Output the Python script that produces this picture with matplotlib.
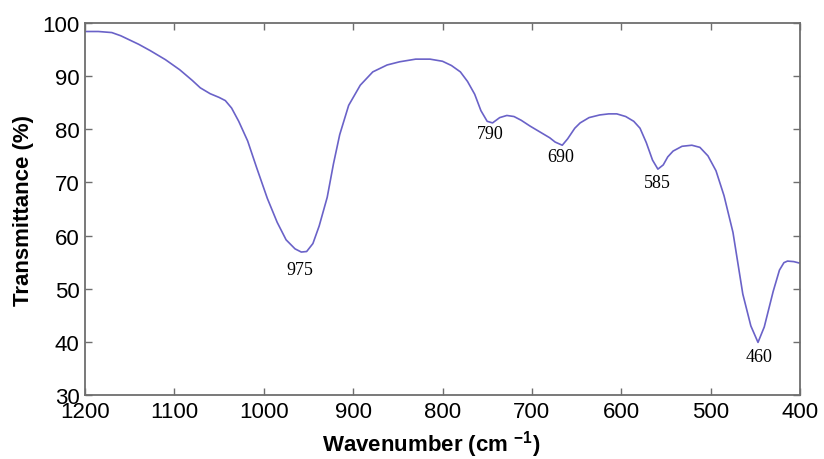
import matplotlib.pyplot as plt

plt.rcParams['font.family'] = ['Liberation Sans', 'DejaVu Sans']
plt.rcParams['mathtext.fontset'] = 'custom'
plt.rcParams['mathtext.rm'] = 'Liberation Sans:bold'
plt.rcParams['mathtext.default'] = 'rm'

# spectrum (wavenumber, transmittance %)
wavenumber = [1200, 1185, 1170, 1160, 1150, 1140, 1127, 1110, 1094, 1080, 1071,
              1060, 1050, 1043, 1036, 1028, 1018, 1008, 996, 985, 975, 965,
              958, 952, 945, 938, 929, 922, 915, 905, 892, 878, 862, 848,
              830, 814, 800, 790, 780, 772, 764, 757, 750, 744, 736, 728,
              720, 712, 702, 690, 680, 674, 666, 660, 652, 646, 636, 624,
              614, 605, 595, 586, 579, 572, 565, 559, 553, 548, 542, 532,
              521, 512, 503, 494, 485, 475, 464, 455, 447, 440, 430, 423,
              418, 414, 407, 400]
transmittance = [98.4, 98.4, 98.2, 97.6, 96.8, 96.0, 94.8, 93.1, 91.2, 89.2, 87.8,
                 86.7, 86.0, 85.4, 84.0, 81.5, 77.8, 72.8, 67.0, 62.5, 59.2, 57.5,
                 56.9, 57.0, 58.5, 61.8, 67.2, 73.5, 79.0, 84.5, 88.3, 90.8, 92.1, 92.7,
                 93.2, 93.2, 92.8, 92.0, 90.8, 89.0, 86.6, 83.5, 81.5, 81.2, 82.2, 82.6,
                 82.4, 81.7, 80.6, 79.4, 78.4, 77.6, 77.0, 78.2, 80.2, 81.2, 82.2, 82.7,
                 82.9, 82.9, 82.4, 81.5, 80.2, 77.5, 74.2, 72.5, 73.3, 74.8, 75.9, 76.8,
                 77.0, 76.6, 75.0, 72.2, 67.5, 60.6, 49.0, 43.0, 39.9, 42.8, 49.5, 53.5,
                 54.9, 55.2, 55.1, 54.8]

peak_labels = ['975', '790', '690', '585', '460']
peak_x = [960, 747, 668, 560, 446]
peak_y = [53.6, 79.3, 74.8, 70.0, 37.3]

fig = plt.figure(figsize=(8.24, 4.6), dpi=100)
ax = fig.add_axes([85 / 824, 64 / 460, 715 / 824, 372 / 460])

ax.plot(wavenumber, transmittance, color='#6a62c8', linewidth=1.2)

for lab, x, y in zip(peak_labels, peak_x, peak_y):
    ax.text(x, y, lab, ha='center', va='center', fontsize=13,
            family=['Liberation Serif', 'DejaVu Serif'])

ax.set_xlim(1200, 400)
ax.set_ylim(30, 100)
ax.set_xticks(range(1200, 399, -100))
ax.set_yticks(range(30, 101, 10))

for sp in ax.spines.values():
    sp.set_color('#6e6e6e')
    sp.set_linewidth(1.3)
ax.tick_params(direction='in', length=5, width=1, color='#6e6e6e',
               top=True, right=True, labelsize=16)
ax.tick_params(axis='x', pad=4)
ax.tick_params(axis='y', pad=4)

ax.set_xlabel(r'Wavenumber (cm $^{-1}$)', fontsize=16, fontweight='bold')
ax.set_ylabel('Transmittance (%)', fontsize=16, fontweight='bold')
ax.xaxis.set_label_coords(0.484, -0.088)
ax.yaxis.set_label_coords(-0.071, 0.5)

fig.savefig('out.png', dpi=100)
